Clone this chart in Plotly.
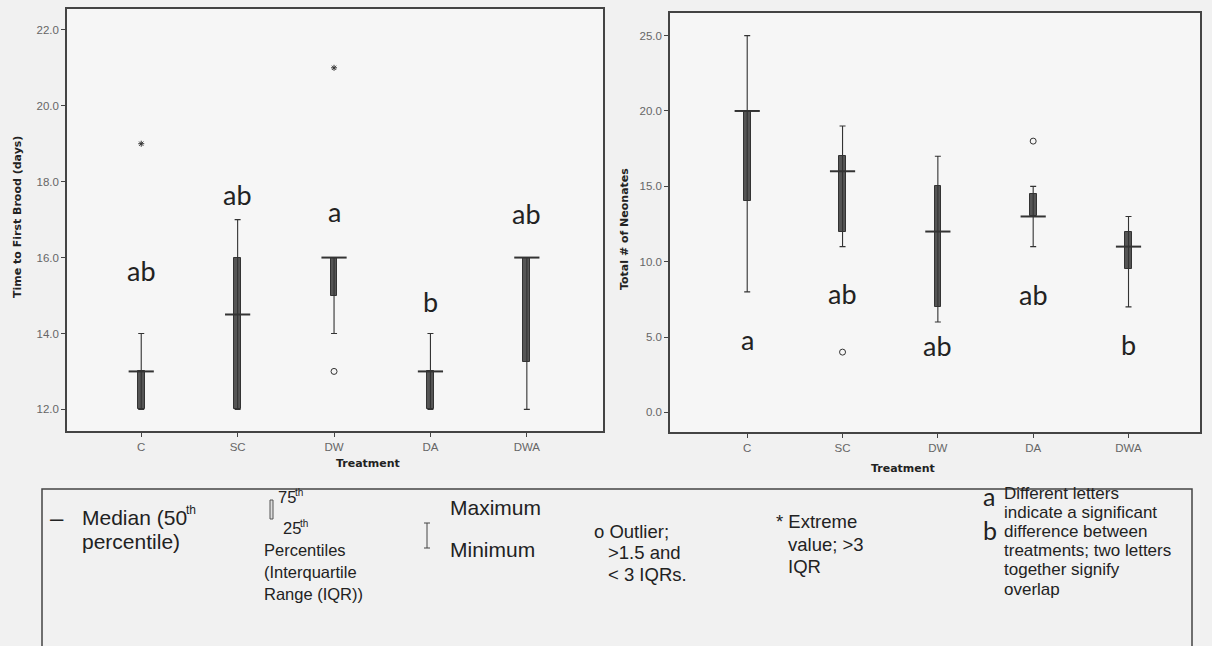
import plotly.graph_objects as go

W, H = 1212, 646

treatments = ["C", "SC", "DW", "DA", "DWA"]

# Left panel: Time to First Brood (days)
brood_min = [12, 12, 14, 12, 12]
brood_q1 = [12, 12, 15, 12, 13.25]
brood_med = [13, 14.5, 16, 13, 16]
brood_q3 = [13, 16, 16, 13, 16]
brood_max = [14, 17, 16, 14, 16]
brood_out_x = ["DW"]
brood_out_y = [13]
brood_ext_x = ["C", "DW"]
brood_ext_y = [19, 21]
brood_letters = ["ab", "ab", "a", "b", "ab"]
brood_letter_y = [15.65, 17.65, 17.1, 14.85, 17.15]

# Right panel: Total # of Neonates
neo_min = [8, 11, 6, 11, 7]
neo_q1 = [14, 12, 7, 13, 9.5]
neo_med = [20, 16, 12, 13, 11]
neo_q3 = [20, 17, 15, 14.5, 12]
neo_max = [25, 19, 17, 15, 13]
neo_out_x = ["SC", "DA"]
neo_out_y = [4, 18]
neo_letters = ["a", "ab", "ab", "ab", "b"]
neo_letter_y = [4.55, 7.9, 4.45, 7.85, 4.5]

left_ticks = [12.0, 14.0, 16.0, 18.0, 20.0, 22.0]
right_ticks = [0.0, 5.0, 10.0, 15.0, 20.0, 25.0]

BG = "#f1f1f1"
PLOTBG = "#f6f6f6"
DARK = "#333333"
BOX = "#555555"


def px(x):
    return x / W


def py(y):
    return 1 - y / H


fig = go.Figure()


def add_panel(xa, ya, mn, q1, med, q3, mx, out_x, out_y, ext_x, ext_y, letters, letter_y, boxw):
    xref = "x" if xa == "x" else "x2"
    yref = "y" if ya == "y" else "y2"
    # IQR boxes
    fig.add_trace(go.Bar(
        x=treatments, y=[b - a for a, b in zip(q1, q3)], base=q1,
        width=boxw, marker=dict(color=BOX, line=dict(color=DARK, width=1)),
        xaxis=xref, yaxis=yref, showlegend=False, hoverinfo="skip"))
    # whiskers (min-max) + median line
    fig.add_trace(go.Scatter(
        x=treatments, y=med, mode="markers",
        marker=dict(symbol="line-ew", size=18, color=DARK, line=dict(color=DARK, width=2)),
        error_y=dict(type="data", symmetric=False,
                     array=[b - a for a, b in zip(med, mx)],
                     arrayminus=[a - b for a, b in zip(med, mn)],
                     color=DARK, thickness=1.1, width=3),
        xaxis=xref, yaxis=yref, showlegend=False, hoverinfo="skip"))
    if out_x:
        fig.add_trace(go.Scatter(
            x=out_x, y=out_y, mode="markers",
            marker=dict(symbol="circle-open", size=6, color=DARK, line=dict(width=1)),
            xaxis=xref, yaxis=yref, showlegend=False, hoverinfo="skip"))
    if ext_x:
        fig.add_trace(go.Scatter(
            x=ext_x, y=ext_y, mode="markers",
            marker=dict(symbol="asterisk-open", size=5, color=DARK, line=dict(width=1, color=DARK)),
            xaxis=xref, yaxis=yref, showlegend=False, hoverinfo="skip"))
    for t, lab, ly in zip(treatments, letters, letter_y):
        fig.add_annotation(x=t, y=ly, xref=xref, yref=yref, text=lab, showarrow=False,
                           font=dict(family="Lato", size=27, color="#222222"),
                           yshift=4 if lab == "a" else 0)


add_panel("x", "y", brood_min, brood_q1, brood_med, brood_q3, brood_max,
          brood_out_x, brood_out_y, brood_ext_x, brood_ext_y, brood_letters, brood_letter_y, 0.07)
add_panel("x2", "y2", neo_min, neo_q1, neo_med, neo_q3, neo_max,
          neo_out_x, neo_out_y, [], [], neo_letters, neo_letter_y, 0.07)

axis_common = dict(showline=True, linecolor="#444444", linewidth=1.5, mirror=True,
                   ticks="outside", ticklen=4, tickcolor="#444444", showgrid=False, zeroline=False,
                   tickfont=dict(family="Liberation Sans", size=11.5, color="#666666"))

fig.update_layout(
    width=W, height=H, margin=dict(l=0, r=0, t=0, b=0),
    paper_bgcolor=BG, plot_bgcolor=PLOTBG, bargap=0,
    xaxis=dict(domain=[px(67), px(603)], anchor="y", type="category",
               categoryorder="array", categoryarray=treatments,
               range=[-0.77, 4.79], **axis_common),
    yaxis=dict(domain=[py(431), py(9)], anchor="x", range=[11.43, 22.55],
               tickvals=left_ticks, ticktext=[f"{v:.1f}" for v in left_ticks], **axis_common),
    xaxis2=dict(domain=[px(670), px(1200)], anchor="y2", type="category",
                categoryorder="array", categoryarray=treatments,
                range=[-0.81, 4.75], **axis_common),
    yaxis2=dict(domain=[py(432), py(13)], anchor="x2", range=[-1.3, 26.5],
                tickvals=right_ticks, ticktext=[f"{v:.1f}" for v in right_ticks], **axis_common),
)

title_font = dict(family="DejaVu Sans", size=11, color="#222222")
fig.add_annotation(x=px(17), y=py(217), xref="paper", yref="paper", text="<b>Time to First Brood (days)</b>",
                   textangle=-90, showarrow=False, xanchor="center", yanchor="middle", font=title_font)
fig.add_annotation(x=px(624), y=py(229), xref="paper", yref="paper", text="<b>Total # of Neonates</b>",
                   textangle=-90, showarrow=False, xanchor="center", yanchor="middle", font=title_font)
fig.add_annotation(x=px(334), y=py(472), xref="paper", yref="paper", text="<b>Treatment</b>",
                   showarrow=False, font=title_font)
fig.add_annotation(x=px(937), y=py(477), xref="paper", yref="paper", text="<b>Treatment</b>",
                   showarrow=False, font=title_font)

# Legend / key box
fig.add_shape(type="rect", xref="paper", yref="paper", x0=px(42), x1=px(1192), y0=py(489), y1=py(660),
              line=dict(color="#444444", width=1.5), fillcolor="rgba(0,0,0,0)")

LF = "Liberation Sans"
big = dict(family=LF, size=21, color="#222222")
mid = dict(family=LF, size=18.5, color="#222222")
small = dict(family=LF, size=16.5, color="#222222")
right_f = dict(family=LF, size=17, color="#222222")
sup_big = dict(family=LF, size=12, color="#222222")
sup_small = dict(family=LF, size=10, color="#222222")


def note(x, y, text, font, xanchor="left"):
    fig.add_annotation(x=px(x), y=py(y), xref="paper", yref="paper", text=text, showarrow=False,
                       xanchor=xanchor, yanchor="middle", font=font)


note(48, 517, "–", dict(family=LF, size=24, color="#222222"))
note(80, 517, "Median (50", big)
note(184, 510, "th", sup_big)
note(80, 541, "percentile)", big)

fig.add_shape(type="rect", xref="paper", yref="paper", x0=px(270), x1=px(273), y0=py(519), y1=py(500),
              line=dict(color="#555555", width=1), fillcolor="#dddddd")
note(276, 497, "75", small)
note(293, 492, "th", sup_small)
note(281, 528, "25", small)
note(298, 523, "th", sup_small)
note(262, 550, "Percentiles", small)
note(262, 572, "(Interquartile", small)
note(262, 594, "Range (IQR))", small)

fig.add_shape(type="line", xref="paper", yref="paper", x0=px(427), x1=px(427), y0=py(523), y1=py(548),
              line=dict(color="#444444", width=1))
fig.add_shape(type="line", xref="paper", yref="paper", x0=px(424), x1=px(430), y0=py(523), y1=py(523),
              line=dict(color="#444444", width=1))
fig.add_shape(type="line", xref="paper", yref="paper", x0=px(424), x1=px(430), y0=py(548), y1=py(548),
              line=dict(color="#444444", width=1))
note(448, 507, "Maximum", big)
note(448, 549, "Minimum", big)

note(592, 531, "o Outlier;", mid)
note(606, 552, "&gt;1.5 and", mid)
note(606, 574, "&lt; 3 IQRs.", mid)

note(774, 521, "* Extreme", mid)
note(786, 544, "value; &gt;3", mid)
note(786, 566, "IQR", mid)

note(981, 496, "a", dict(family="Lato", size=25, color="#222222"))
note(981, 530, "b", dict(family="Lato", size=25, color="#222222"))
note(1002, 493, "Different letters", right_f)
note(1002, 512, "indicate a significant", right_f)
note(1002, 531, "difference between", right_f)
note(1002, 550, "treatments; two letters", right_f)
note(1002, 569, "together signify", right_f)
note(1002, 589, "overlap", right_f)

fig.write_html("out.html")
